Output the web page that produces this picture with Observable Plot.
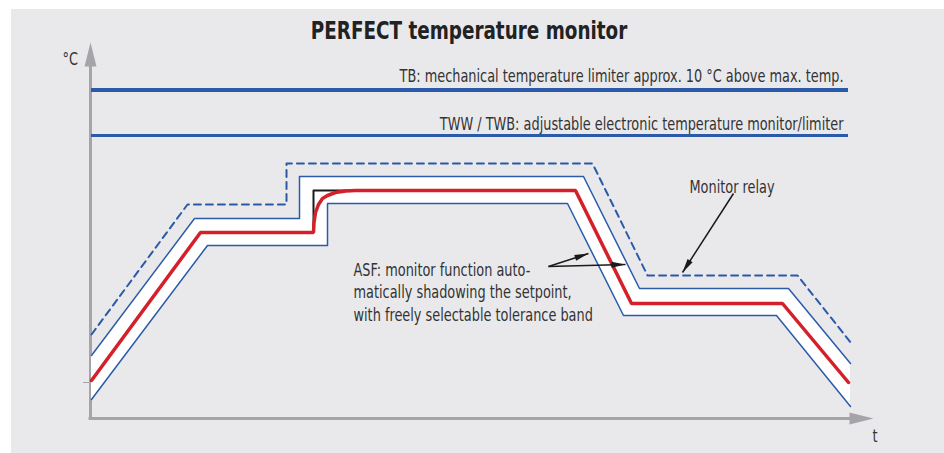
<!DOCTYPE html>
<html><head><meta charset="utf-8">
<script src="https://cdn.jsdelivr.net/npm/d3@7"></script>
<script src="https://cdn.jsdelivr.net/npm/@observablehq/plot@0.6"></script>
<style>
html,body{margin:0;padding:0;background:#fff;}
#wrap{position:relative;width:944px;height:453px;overflow:hidden;}
#panel{position:absolute;left:11px;top:9px;right:0;bottom:0;background:#e9e9ec;}
#chart{position:absolute;left:0;top:0;}
</style></head><body>
<div id="wrap"><div id="panel"></div><div id="chart"></div></div>
<script>
// Schematic units: t = time, T = temperature
const setpointT = [1, 110, 223, 223.5, 225, 228, 232, 237, 245, 255, 265, 485, 541, 692, 758];
const setpointV = [38, 186, 186, 196, 206, 214, 220, 223, 226, 227.5, 228, 228, 115, 115, 36];
const stepT = [223, 223, 262];
const stepV = [186, 228, 228];
const upperT = [1, 104, 209, 209, 493, 549, 698, 760];
const upperV = [63, 200, 200, 242, 242, 130, 130, 55];
const lowerT = [1, 117, 237, 237, 477, 533, 686, 760];
const lowerV = [19, 173, 173, 215, 215, 103, 103, 12];
const relayT = [1, 97, 196, 196, 502, 557, 707, 761];
const relayV = [84, 214, 214, 255, 255, 143, 143, 75];
const limitNames = ["TB: mechanical temperature limiter approx. 10 °C above max. temp.",
                    "TWW / TWB: adjustable electronic temperature monitor/limiter"];
const limitV = [328.5, 283];
const limitWidth = [4, 3];
const limitLabelDy = [-8.5, -6];
const limitStart = 1, limitEnd = 758, limitLabelEnd = 753;
const startTick = [36];
const asfLines = "ASF: monitor function auto-\nmatically shadowing the setpoint,\nwith freely selectable tolerance band";
const asfPos = {t: 263, T: 159};
const relayLabel = "Monitor relay";
const relayPos = {t: 599, T: 226};
const arrows = [
  {t1: 458, T1: 152, t2: 498, T2: 165},
  {t1: 458, T1: 152, t2: 535, T2: 154},
  {t1: 643, T1: 225, t2: 592, T2: 146}
];
const title = "PERFECT temperature monitor";
const axisMaxT = 783, axisMaxV = 376;

const BLUE = "#2b5ba8", RED = "#d3202a", GRAY = "#a4a4a9", TEXT = "#333333";
const FONT = "'Liberation Sans Narrow','DejaVu Sans Condensed','Arial Narrow','DejaVu Sans',sans-serif";
const FS = 17.5;

const zip = (ts, vs) => ts.map((t, i) => ({t, T: vs[i]}));
const setpoint = zip(setpointT, setpointV);
const step = zip(stepT, stepV);
const upper = zip(upperT, upperV);
const lower = zip(lowerT, lowerV);
const relay = zip(relayT, relayV);
const band = upperT.map((t, i) => ({x1: t, y1: upperV[i], x2: lowerT[i], y2: lowerV[i]}));
const limits = limitNames.map((name, i) => ({name, T: limitV[i], w: limitWidth[i], dy: limitLabelDy[i]}));

const W = 944, H = 453, mL = 90, mR = 71, mT = 42, mB = 35;
const kx = (W - mL - mR) / axisMaxT, ky = (H - mT - mB) / axisMaxV;

function head(ux, uy, len, half) {
  const n = Math.hypot(ux, uy); ux /= n; uy /= n;
  return {draw(ctx) {
    ctx.moveTo(0, 0);
    ctx.lineTo(-ux * len - uy * half, -uy * len + ux * half);
    ctx.lineTo(-ux * len + uy * half, -uy * len - ux * half);
    ctx.closePath();
  }};
}

const marks = [
  // axes
  Plot.ruleX([0], {y1: 0, y2: axisMaxV - 12, stroke: GRAY, strokeWidth: 3}),
  Plot.ruleY([0], {x1: -1.5, x2: axisMaxT - 12, stroke: GRAY, strokeWidth: 3}),
  Plot.dot([{t: 0, T: axisMaxV}], {x: "t", y: "T", symbol: head(0, -1, 24, 6), fill: GRAY, r: 5}),
  Plot.dot([{t: axisMaxT, T: 0}], {x: "t", y: "T", symbol: head(1, 0, 24, 6), fill: GRAY, r: 5}),
  Plot.text(["°C"], {frameAnchor: "top-left", dx: -28, dy: 10, fontSize: 17.5, fill: TEXT, fontFamily: FONT}),
  Plot.text(["t"], {frameAnchor: "bottom-right", dx: 4, dy: 23, fontSize: 17.5, fill: TEXT, fontFamily: FONT}),
  // limit lines
  ...limits.map(d => Plot.ruleY([d], {y: "T", x1: limitStart, x2: limitEnd, stroke: BLUE, strokeWidth: d.w})),
  ...limits.map(d => Plot.text([d], {x: limitLabelEnd, y: "T", text: "name", textAnchor: "end", lineAnchor: "bottom", dy: d.dy, fontSize: FS, fill: TEXT, fontFamily: FONT})),
  // tolerance band
  Plot.area(band, {x1: "x1", y1: "y1", x2: "x2", y2: "y2", fill: "white"}),
  Plot.line(upper, {x: "t", y: "T", stroke: BLUE, strokeWidth: 1.5}),
  Plot.line(lower, {x: "t", y: "T", stroke: BLUE, strokeWidth: 1.5}),
  Plot.line(relay, {x: "t", y: "T", stroke: BLUE, strokeWidth: 2, strokeDasharray: "7,5"}),
  Plot.line(step, {x: "t", y: "T", stroke: "#1a1a1a", strokeWidth: 2}),
  Plot.line(setpoint, {x: "t", y: "T", stroke: RED, strokeWidth: 3.5, strokeLinejoin: "miter"}),
  // annotations
  Plot.text([asfLines], {x: asfPos.t, y: asfPos.T, textAnchor: "start", lineAnchor: "top", lineHeight: 1.3, fontSize: FS, fill: TEXT, fontFamily: FONT}),
  Plot.text([relayLabel], {x: relayPos.t, y: relayPos.T, textAnchor: "start", lineAnchor: "bottom", fontSize: FS, fill: TEXT, fontFamily: FONT}),
  Plot.link(arrows, {x1: "t1", y1: "T1", x2: "t2", y2: "T2", stroke: "#1a1a1a", strokeWidth: 1.5}),
  ...arrows.map(a => Plot.dot([a], {x: "t2", y: "T2", r: 5, fill: "#1a1a1a",
      symbol: head((a.t2 - a.t1) * kx, -(a.T2 - a.T1) * ky, 14, 3)})),
  // title
  Plot.text([title], {frameAnchor: "top", dx: -13, dy: -11, lineAnchor: "middle", fontSize: 24, fontWeight: "bold", fill: "#222", fontFamily: FONT})
];

const chart = Plot.plot({
  width: W, height: H,
  marginLeft: mL, marginRight: mR, marginTop: mT, marginBottom: mB,
  style: {background: "transparent", color: GRAY, overflow: "visible"},
  x: {domain: [0, axisMaxT], axis: null},
  y: {domain: [0, axisMaxV], ticks: startTick, tickSize: 7, tickFormat: () => "", label: null},
  marks
});
document.getElementById("chart").appendChild(chart);

// condense the fallback font horizontally so the labels span the same widths as the original condensed face
const texts = Array.from(chart.querySelectorAll("text")).filter(t => t.textContent.trim() !== "");
const find = s => texts.find(t => t.textContent === s);
const refBody = find(limitNames[0]), refTitle = find(title);
const sBody = Math.min(1, 445 / refBody.getBBox().width);
const sTitle = Math.min(1, 317 / refTitle.getBBox().width);
for (const t of texts) {
  const s = t === refTitle ? sTitle : sBody;
  const tr = t.getAttribute("transform") || "";
  t.setAttribute("transform", `${tr} scale(${s},1)`);
}
</script>
</body></html>
